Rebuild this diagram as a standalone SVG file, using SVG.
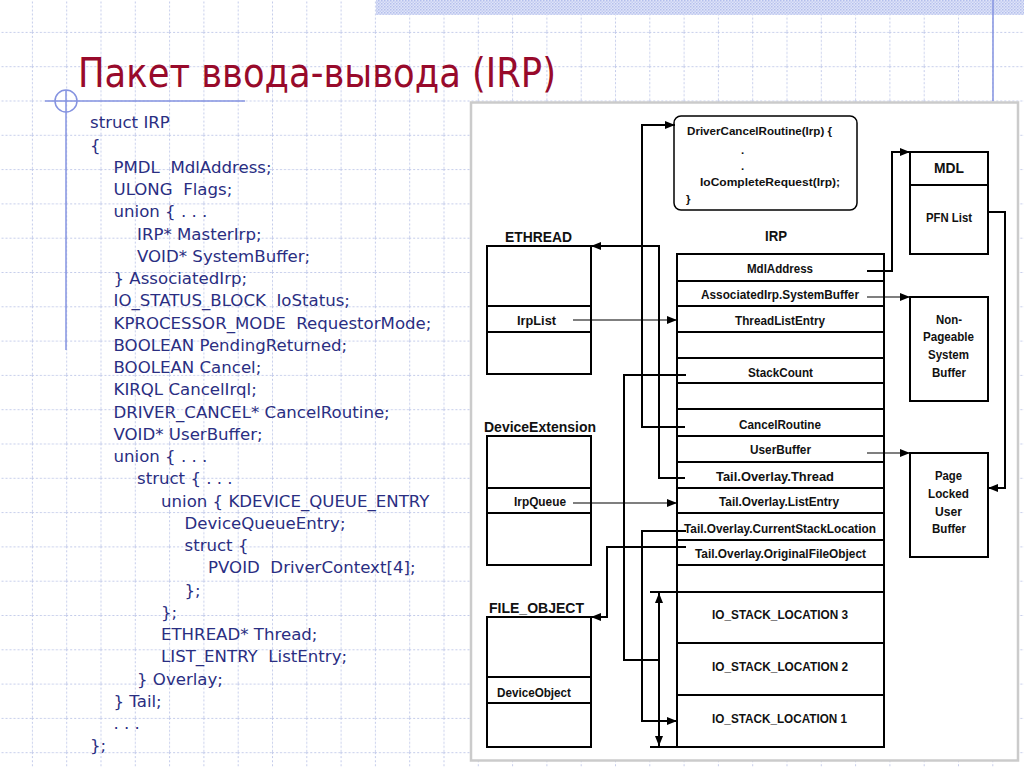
<svg xmlns="http://www.w3.org/2000/svg" width="1024" height="767" viewBox="0 0 1024 767">
<defs>
<pattern id="grid" patternUnits="userSpaceOnUse" x="31.9" y="31.9" width="34.3" height="34.3">
<path d="M0,0.5 H34.3 M0.5,0 V34.3" stroke="#c3cbea" stroke-width="1" stroke-dasharray="2 2" fill="none"/>
</pattern>
<pattern id="band" patternUnits="userSpaceOnUse" width="3" height="3">
<rect width="3" height="3" fill="#dfe4f8"/>
<rect width="1.5" height="1.5" fill="#b4bfec"/>
<rect x="1.5" y="1.5" width="1.5" height="1.5" fill="#c4cdf1"/>
</pattern>
<marker id="ah" markerUnits="userSpaceOnUse" markerWidth="10" markerHeight="8" refX="10" refY="4" orient="auto-start-reverse">
<path d="M0,0 L10,4 L0,8 z" fill="#000"/>
</marker>
<style>
.code text{font-family:"DejaVu Sans","Liberation Sans",sans-serif;font-size:16.6px;fill:#2a2e82;white-space:pre}
.lbl{font-family:"Liberation Sans",Arial,sans-serif;font-weight:bold;font-size:12.5px;fill:#111}
.big{font-size:15px}
.mid{font-size:13.5px}
.box{fill:#fff;stroke:#000;stroke-width:2}
.sep{stroke:#000;stroke-width:2;fill:none}
.thk{stroke:#000;stroke-width:2;fill:none}
.thn{stroke:#000;stroke-width:1.2;fill:none}
.deco{stroke:#8593e0;stroke-width:1.5;fill:none}
</style>
</defs>

<g id="background">
<rect width="1024" height="767" fill="#fff"/>
<rect width="1024" height="767" fill="url(#grid)"/>
<rect x="376" y="0" width="648" height="15" fill="url(#band)"/>
<line class="deco" x1="993" y1="0" x2="993" y2="101"/>
<line class="deco" x1="45" y1="101" x2="245" y2="101"/>
<circle class="deco" cx="66" cy="101" r="11"/>
<line class="deco" x1="66" y1="90" x2="66" y2="350"/>
</g>

<text id="title" x="78" y="87" font-family="DejaVu Sans,'Liberation Sans',sans-serif" font-size="40" fill="#980a2b" textLength="478" lengthAdjust="spacingAndGlyphs">Пакет ввода-вывода (IRP)</text>

<g id="code" class="code">
<text xml:space="preserve" x="90" y="128.3">struct IRP</text>
<text xml:space="preserve" x="90" y="150.5">{</text>
<text xml:space="preserve" x="113.5" y="172.8">PMDL  MdlAddress;</text>
<text xml:space="preserve" x="113.5" y="195">ULONG  Flags;</text>
<text xml:space="preserve" x="113.5" y="217.3">union { . . .</text>
<text xml:space="preserve" x="137" y="239.5">IRP* MasterIrp;</text>
<text xml:space="preserve" x="137" y="261.8">VOID* SystemBuffer;</text>
<text xml:space="preserve" x="113.5" y="284">} AssociatedIrp;</text>
<text xml:space="preserve" x="113.5" y="306.3">IO_STATUS_BLOCK  IoStatus;</text>
<text xml:space="preserve" x="113.5" y="328.5">KPROCESSOR_MODE  RequestorMode;</text>
<text xml:space="preserve" x="113.5" y="350.8">BOOLEAN PendingReturned;</text>
<text xml:space="preserve" x="113.5" y="373">BOOLEAN Cancel;</text>
<text xml:space="preserve" x="113.5" y="395.3">KIRQL CancelIrql;</text>
<text xml:space="preserve" x="113.5" y="417.5">DRIVER_CANCEL* CancelRoutine;</text>
<text xml:space="preserve" x="113.5" y="439.8">VOID* UserBuffer;</text>
<text xml:space="preserve" x="113.5" y="462">union { . . .</text>
<text xml:space="preserve" x="137" y="484.3">struct { . . .</text>
<text xml:space="preserve" x="161" y="506.5">union { KDEVICE_QUEUE_ENTRY</text>
<text xml:space="preserve" x="184.5" y="528.8">DeviceQueueEntry;</text>
<text xml:space="preserve" x="184.5" y="551">struct {</text>
<text xml:space="preserve" x="208" y="573.3">PVOID  DriverContext[4];</text>
<text xml:space="preserve" x="184.5" y="595.5">};</text>
<text xml:space="preserve" x="161" y="617.8">};</text>
<text xml:space="preserve" x="161" y="640">ETHREAD* Thread;</text>
<text xml:space="preserve" x="161" y="662.3">LIST_ENTRY  ListEntry;</text>
<text xml:space="preserve" x="137" y="684.5">} Overlay;</text>
<text xml:space="preserve" x="113.5" y="706.8">} Tail;</text>
<text xml:space="preserve" x="113.5" y="729">. . .</text>
<text xml:space="preserve" x="90" y="751.3">};</text>
</g>

<rect id="panel" x="471" y="102.5" width="547" height="658" fill="#fff" stroke="#cbcbcb" stroke-width="2.5"/>

<g id="cancel-routine">
<rect x="674" y="116" width="183" height="94" rx="7" ry="7" fill="#fff" stroke="#000" stroke-width="1.5"/>
<text class="lbl" style="font-size:11.5px" x="687" y="135" textLength="145" lengthAdjust="spacingAndGlyphs">DriverCancelRoutine(Irp) {</text>
<text class="lbl" style="font-size:11.5px" x="741" y="154">.</text>
<text class="lbl" style="font-size:11.5px" x="741" y="170">.</text>
<text class="lbl" style="font-size:11.5px" x="700" y="186" textLength="140" lengthAdjust="spacingAndGlyphs">IoCompleteRequest(Irp);</text>
<text class="lbl" style="font-size:11.5px" x="686" y="203">}</text>
</g>

<g id="ethread">
<text class="lbl big" x="505" y="242" textLength="67" lengthAdjust="spacingAndGlyphs">ETHREAD</text>
<rect class="box" x="487" y="246" width="104" height="128"/>
<path class="sep" d="M487,306 H591 M487,332 H591"/>
<text class="lbl" x="517" y="325" textLength="39" lengthAdjust="spacingAndGlyphs">IrpList</text>
</g>

<g id="device-extension">
<text class="lbl big" x="484" y="432" textLength="112" lengthAdjust="spacingAndGlyphs">DeviceExtension</text>
<rect class="box" x="487" y="436" width="104" height="129"/>
<path class="sep" d="M487,488 H591 M487,513 H591"/>
<text class="lbl" x="514" y="506" textLength="52" lengthAdjust="spacingAndGlyphs">IrpQueue</text>
</g>

<g id="file-object">
<text class="lbl big" x="489" y="613" textLength="95" lengthAdjust="spacingAndGlyphs">FILE_OBJECT</text>
<rect class="box" x="487" y="617" width="104" height="130"/>
<path class="sep" d="M487,677 H591 M487,703 H591"/>
<text class="lbl" x="497" y="697" textLength="74" lengthAdjust="spacingAndGlyphs">DeviceObject</text>
</g>

<g id="irp">
<text class="lbl big" x="765" y="241" textLength="22" lengthAdjust="spacingAndGlyphs">IRP</text>
<rect class="box" x="677" y="254" width="207" height="493"/>
<path class="sep" d="M677,281 H884 M677,306 H884 M677,332 H884 M677,358 H884 M677,383 H884 M677,409 H884 M677,436 H884 M677,462 H884 M677,488 H884 M677,513 H884 M677,540 H884 M677,565 H884 M677,592 H884 M677,643 H884 M677,695 H884"/>
<text class="lbl" x="747" y="273" textLength="66" lengthAdjust="spacingAndGlyphs">MdlAddress</text>
<text class="lbl" x="701" y="299" textLength="158" lengthAdjust="spacingAndGlyphs">AssociatedIrp.SystemBuffer</text>
<text class="lbl" x="735" y="325" textLength="90" lengthAdjust="spacingAndGlyphs">ThreadListEntry</text>
<text class="lbl" x="748" y="377" textLength="65" lengthAdjust="spacingAndGlyphs">StackCount</text>
<text class="lbl" x="739" y="429" textLength="82" lengthAdjust="spacingAndGlyphs">CancelRoutine</text>
<text class="lbl" x="750" y="454" textLength="61" lengthAdjust="spacingAndGlyphs">UserBuffer</text>
<text class="lbl" x="716" y="481" textLength="118" lengthAdjust="spacingAndGlyphs">Tail.Overlay.Thread</text>
<text class="lbl" x="719" y="506" textLength="120" lengthAdjust="spacingAndGlyphs">Tail.Overlay.ListEntry</text>
<text class="lbl" x="684" y="533" textLength="192" lengthAdjust="spacingAndGlyphs">Tail.Overlay.CurrentStackLocation</text>
<text class="lbl" x="695" y="558" textLength="171" lengthAdjust="spacingAndGlyphs">Tail.Overlay.OriginalFileObject</text>
<text class="lbl mid" x="712" y="619" textLength="136" lengthAdjust="spacingAndGlyphs">IO_STACK_LOCATION 3</text>
<text class="lbl mid" x="712" y="671" textLength="136" lengthAdjust="spacingAndGlyphs">IO_STACK_LOCATION 2</text>
<text class="lbl mid" x="712" y="723" textLength="135" lengthAdjust="spacingAndGlyphs">IO_STACK_LOCATION 1</text>
</g>

<g id="mdl">
<rect class="box" x="910" y="152" width="78" height="102"/>
<path class="sep" d="M910,185 H988"/>
<text class="lbl big" x="934" y="173" textLength="30" lengthAdjust="spacingAndGlyphs">MDL</text>
<text class="lbl" x="926" y="222" textLength="46" lengthAdjust="spacingAndGlyphs">PFN List</text>
</g>

<g id="non-pageable-buffer">
<rect class="box" x="910" y="297" width="78" height="104"/>
<text class="lbl" style="font-size:13px" x="936" y="324" textLength="26" lengthAdjust="spacingAndGlyphs">Non-</text>
<text class="lbl" style="font-size:13px" x="923" y="341" textLength="51" lengthAdjust="spacingAndGlyphs">Pageable</text>
<text class="lbl" style="font-size:13px" x="928" y="359" textLength="41" lengthAdjust="spacingAndGlyphs">System</text>
<text class="lbl" style="font-size:13px" x="932" y="377" textLength="34" lengthAdjust="spacingAndGlyphs">Buffer</text>
</g>

<g id="page-locked-buffer">
<rect class="box" x="910" y="453" width="78" height="104"/>
<text class="lbl" style="font-size:13px" x="935" y="480" textLength="27" lengthAdjust="spacingAndGlyphs">Page</text>
<text class="lbl" style="font-size:13px" x="928" y="498" textLength="41" lengthAdjust="spacingAndGlyphs">Locked</text>
<text class="lbl" style="font-size:13px" x="935" y="516" textLength="27" lengthAdjust="spacingAndGlyphs">User</text>
<text class="lbl" style="font-size:13px" x="932" y="533" textLength="34" lengthAdjust="spacingAndGlyphs">Buffer</text>
</g>

<g id="connectors">
<path class="thk" d="M685,427 H642 V125 H675" marker-end="url(#ah)"/>
<path class="thk" d="M685,478 H659 V246 H591" marker-end="url(#ah)"/>
<path class="thn" d="M573,320 H677" marker-end="url(#ah)"/>
<path class="thk" d="M686,375 H624 V660 H659"/>
<path class="thn" d="M573,503 H677" marker-end="url(#ah)"/>
<path class="thk" d="M686,531 H642 V721 H677" marker-end="url(#ah)"/>
<path class="thk" d="M686,547 H607 V617 H591" marker-end="url(#ah)"/>
<path class="thk" d="M650,592 H677 M650,747 H677"/>
<path class="thk" d="M659,593 V746" marker-start="url(#ah)" marker-end="url(#ah)"/>
<path class="thk" d="M867,271 H892 V152 H910" marker-end="url(#ah)"/>
<path class="thn" d="M867,297 H910" marker-end="url(#ah)"/>
<path class="thn" d="M867,453 H910" marker-end="url(#ah)"/>
<path class="thk" d="M988,212 H1005 V488 H988" marker-end="url(#ah)"/>
</g>
</svg>
